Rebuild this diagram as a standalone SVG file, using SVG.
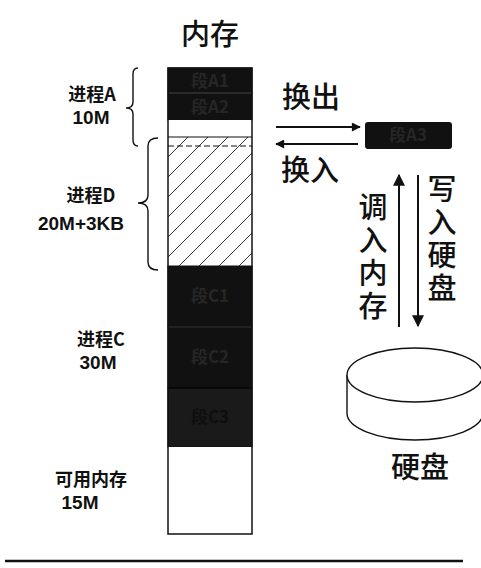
<svg xmlns="http://www.w3.org/2000/svg" width="481" height="568" viewBox="0 0 481 568">
<style>
.lbl{font-family:"Noto Sans CJK SC","Noto Sans",sans-serif;font-weight:bold;font-size:18px;fill:#111;text-anchor:middle}
.num{font-family:"Liberation Sans",Arial,sans-serif;font-weight:bold;font-size:19px;fill:#111;text-anchor:middle}
.big{font-family:"Noto Sans CJK SC","Noto Sans",sans-serif;font-size:29px;font-weight:500;fill:#111;text-anchor:middle}
.vert{font-family:"Noto Sans CJK SC","Noto Sans",sans-serif;font-size:29px;font-weight:500;fill:#111;writing-mode:vertical-rl;letter-spacing:4px}
.seg{font-family:"Noto Sans CJK SC","Noto Sans",sans-serif;font-size:17px;font-weight:bold;fill:#262626;text-anchor:middle}
.blk{fill:#111;stroke:#111;stroke-width:1}
.out{fill:none;stroke:#111;stroke-width:1.5}
.brace{fill:none;stroke:#111;stroke-width:1.4}
.arr{stroke:#111;stroke-width:2;fill:none}
</style>
<defs>
<pattern id="hatch" patternUnits="userSpaceOnUse" width="20" height="20" x="168" y="137">
<line x1="0" y1="20" x2="20" y2="0" stroke="#333" stroke-width="1"/>
<line x1="-5" y1="5" x2="5" y2="-5" stroke="#333" stroke-width="1"/>
<line x1="15" y1="25" x2="25" y2="15" stroke="#333" stroke-width="1"/>
</pattern>
<marker id="ah" viewBox="0 0 10 10" refX="9" refY="5" markerWidth="10" markerHeight="9" orient="auto" markerUnits="userSpaceOnUse">
<path d="M0,0 L10,5 L0,10 z" fill="#111"/>
</marker>
<marker id="ahv" viewBox="0 0 10 10" refX="9" refY="5" markerWidth="15" markerHeight="12" orient="auto" markerUnits="userSpaceOnUse">
<path d="M0,0 L10,5 L0,10 z" fill="#111"/>
</marker>
</defs>
<text class="big" x="210" y="45">内存</text>
<g id="memory">
<g id="segA1"><rect class="blk" x="168" y="68" width="84" height="25"/><text class="seg" x="210" y="87">段A1</text></g>
<g id="segA2"><rect class="blk" x="168" y="93" width="84" height="27"/><line x1="168" y1="93" x2="252" y2="93" stroke="#444" stroke-width="1"/><text class="seg" x="210" y="113">段A2</text></g>
<g id="freeA"><rect x="168" y="120" width="84" height="17" fill="#fff"/></g>
<g id="procD"><rect x="168" y="137" width="84" height="129" fill="url(#hatch)"/><line x1="168" y1="137" x2="252" y2="137" stroke="#111" stroke-width="1.2"/><line x1="168" y1="146" x2="252" y2="146" stroke="#111" stroke-width="1.2" stroke-dasharray="6,3"/></g>
<g id="segC1"><rect class="blk" x="168" y="266" width="84" height="61"/><text class="seg" x="210" y="302">段C1</text></g>
<g id="segC2"><rect class="blk" x="168" y="327" width="84" height="61" fill="#141414"/><line x1="168" y1="327" x2="252" y2="327" stroke="#333" stroke-width="1"/><text class="seg" x="210" y="363">段C2</text></g>
<g id="segC3"><rect x="168" y="388" width="84" height="59" fill="#1a1a1a" stroke="#111"/><line x1="168" y1="388" x2="252" y2="388" stroke="#050505" stroke-width="1.5"/><text class="seg" x="210" y="423" style="fill:#0e0e0e">段C3</text></g>
<g id="freeMem"><rect x="168" y="447" width="84" height="87" fill="#fff"/></g>
<rect class="out" x="168" y="68" width="84" height="466"/>
</g>
<g id="braces">
<path class="brace" d="M138,68 Q133,68 133,74 L133,102 Q133,108 126,108 Q133,108 133,114 L133,140 Q133,146 138,146"/>
<path class="brace" d="M158,138 Q148,138 148,146 L148,195 Q148,203 138,203 Q148,203 148,211 L148,262 Q148,270 158,270"/>
</g>
<g id="labels">
<text class="lbl" x="92" y="101">进程A</text>
<text class="num" x="91" y="124">10M</text>
<text class="lbl" x="91" y="202">进程D</text>
<text class="num" x="81" y="230">20M+3KB</text>
<text class="lbl" x="101" y="346">进程C</text>
<text class="num" x="98" y="369">30M</text>
<text class="lbl" x="91" y="486">可用内存</text>
<text class="num" x="80" y="509">15M</text>
</g>
<g id="segA3"><rect x="365" y="122" width="87" height="27" rx="3" fill="#111"/><text class="seg" x="408" y="141">段A3</text></g>
<g id="disk">
<path d="M347,375 L347,413 A68,27 0 0 0 483,413 L483,375" fill="#fff" stroke="#111" stroke-width="1.4"/>
<ellipse cx="415" cy="375" rx="68" ry="27" fill="#fff" stroke="#111" stroke-width="1.4"/>
<text class="big" x="420" y="478">硬盘</text>
</g>
<g id="connectors">
<line class="arr" x1="276" y1="127" x2="360" y2="127" marker-end="url(#ah)"/>
<line class="arr" x1="358" y1="144" x2="276" y2="144" marker-end="url(#ah)"/>
<line class="arr" x1="399" y1="327" x2="399" y2="175" marker-end="url(#ahv)"/>
<line class="arr" x1="418" y1="175" x2="418" y2="326" marker-end="url(#ahv)"/>
</g>
<g id="arrowLabels">
<text class="big" x="311" y="108">换出</text>
<text class="big" x="310" y="181">换入</text>
<text class="vert" x="373" y="192">调入内存</text>
<text class="vert" x="442" y="174">写入硬盘</text>
</g>
<line x1="5" y1="561" x2="463" y2="561" stroke="#111" stroke-width="2.5"/>
</svg>
